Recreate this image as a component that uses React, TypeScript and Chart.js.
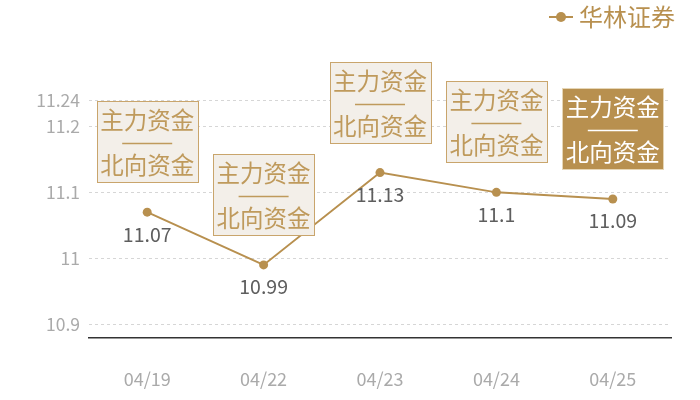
import React, { useRef, useEffect } from 'react';
import { Chart, registerables } from 'chart.js';

Chart.register(...registerables);

const dates = ['04/19', '04/22', '04/23', '04/24', '04/25'];
const prices = [11.07, 10.99, 11.13, 11.1, 11.09];
const yTicks = [10.9, 11, 11.1, 11.2, 11.24];
const tagTop = ['主力资金', '主力资金', '主力资金', '主力资金', '主力资金'];
const tagBottom = ['北向资金', '北向资金', '北向资金', '北向资金', '北向资金'];
const tagActive = [false, false, false, false, true];
const seriesName = '华林证券';

const GOLD = '#b8904f';
const FONT = '"Noto Sans CJK SC", "Noto Sans", sans-serif';

const overlayPlugin = {
  id: 'overlay',
  afterDatasetsDraw(chart: Chart) {
    const ctx = chart.ctx;
    const meta = chart.getDatasetMeta(0);
    meta.data.forEach((pt: any, i: number) => {
      const { x, y } = pt;
      ctx.save();
      // value label under the point
      ctx.font = `19.5px ${FONT}`;
      ctx.fillStyle = '#5e5e5e';
      ctx.textAlign = 'center';
      ctx.textBaseline = 'middle';
      ctx.fillText(String(prices[i]), x, y + 22);

      // tag box above the point
      const w = 101;
      const h = 81;
      const bx = Math.round(x - w / 2) + 0.5;
      const by = Math.round(y - 30 - h) + 0.5;
      const active = tagActive[i];
      ctx.fillStyle = active ? GOLD : '#f3efe9';
      ctx.fillRect(bx, by, w, h);
      ctx.strokeStyle = active ? '#e6d6b6' : '#c9a56c';
      ctx.lineWidth = 1;
      ctx.strokeRect(bx, by, w, h);

      const txt = active ? '#ffffff' : '#bf9a5c';
      ctx.fillStyle = txt;
      ctx.font = `23.5px ${FONT}`;
      ctx.fillText(tagTop[i], x, by + 19);
      ctx.fillText(tagBottom[i], x, by + 64);
      ctx.strokeStyle = txt;
      ctx.lineWidth = 1.5;
      ctx.beginPath();
      ctx.moveTo(x - 25, by + 42);
      ctx.lineTo(x + 25, by + 42);
      ctx.stroke();
      ctx.restore();
    });
  },
  afterDraw(chart: Chart) {
    // legend, top right
    const ctx = chart.ctx;
    ctx.save();
    ctx.strokeStyle = GOLD;
    ctx.fillStyle = GOLD;
    ctx.lineWidth = 2;
    ctx.beginPath();
    ctx.moveTo(549, 17);
    ctx.lineTo(573, 17);
    ctx.stroke();
    ctx.beginPath();
    ctx.arc(561, 17, 5, 0, Math.PI * 2);
    ctx.fill();
    ctx.font = `24px ${FONT}`;
    ctx.textAlign = 'left';
    ctx.textBaseline = 'middle';
    ctx.fillText(seriesName, 579, 17);
    ctx.restore();
  },
};

const App: React.FC = () => {
  const canvasRef = useRef<HTMLCanvasElement>(null);

  useEffect(() => {
    if (!canvasRef.current) return;
    const chart = new Chart(canvasRef.current, {
      type: 'line',
      data: {
        labels: dates,
        datasets: [
          {
            label: seriesName,
            data: prices,
            borderColor: GOLD,
            backgroundColor: GOLD,
            borderWidth: 2,
            pointRadius: 4.5,
            pointBackgroundColor: GOLD,
            pointBorderWidth: 0,
            tension: 0,
          },
        ],
      },
      options: {
        responsive: false,
        animation: false,
        layout: { padding: { top: 100, right: 29, left: 0, bottom: 0 } },
        plugins: {
          legend: { display: false },
          tooltip: { enabled: false },
        },
        scales: {
          x: {
            offset: true,
            grid: { display: false },
            border: { display: true, color: '#333333', width: 1.5 },
            ticks: { color: '#aaaaaa', font: { family: FONT, size: 18 }, padding: 23 },
            afterFit: (s: any) => { s.height = 62.5; },
          },
          y: {
            min: 10.88,
            max: 11.24,
            afterBuildTicks: (s: any) => { s.ticks = yTicks.map(v => ({ value: v })); },
            grid: { color: '#d6d6d6', drawTicks: false, lineWidth: 1 },
            border: { display: false, dash: [3, 3] },
            ticks: {
              color: '#aaaaaa',
              font: { family: FONT, size: 17.5 },
              padding: 9,
              callback: (v: any) => String(v),
            },
            afterFit: (s: any) => { s.width = 89; },
          },
        },
      },
      plugins: [overlayPlugin],
    });
    return () => chart.destroy();
  }, []);

  return (
    <div style={{ position: 'absolute', left: 0, top: 0, width: 700, height: 400, background: '#fff' }}>
      <canvas ref={canvasRef} width={700} height={400} />
    </div>
  );
};

export default App;
